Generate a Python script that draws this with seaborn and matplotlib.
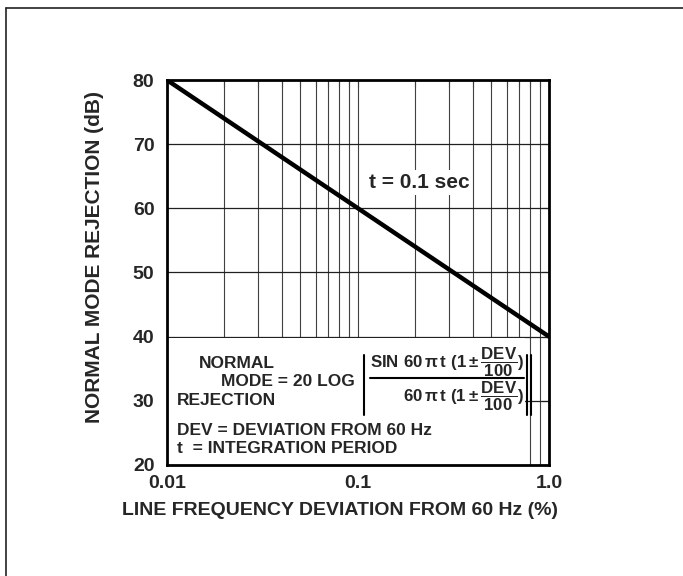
import matplotlib.pyplot as plt
import seaborn as sns
from matplotlib.lines import Line2D
from matplotlib.patches import Rectangle
from matplotlib.ticker import LogLocator, NullFormatter

# curve (t = 0.1 sec)
deviation_pct = [0.01, 0.1, 1.0]
rejection_db = [80, 60, 40]

x_ticks = [0.01, 0.1, 1.0]
x_tick_labels = ["0.01", "0.1", "1.0"]
y_ticks = [20, 30, 40, 50, 60, 70, 80]

sns.set_style("white")
plt.rcParams["font.family"] = ["Liberation Sans", "DejaVu Sans"]
plt.rcParams["font.weight"] = "bold"
plt.rcParams["mathtext.fontset"] = "custom"
plt.rcParams["mathtext.rm"] = "Liberation Sans:bold"
plt.rcParams["mathtext.it"] = "Liberation Sans:bold"
plt.rcParams["mathtext.bf"] = "Liberation Sans:bold"

fig = plt.figure(figsize=(6.83, 5.76), dpi=100)
ax = fig.add_axes([0.2445, 0.193, 0.5593, 0.668])
ax.set_xscale("log")
ax.set_xlim(0.01, 1.0)
ax.set_ylim(20, 80)

# grid drawn by hand so the formula box can hide it
grid_x = [k * 10.0 ** e for e in (-2, -1) for k in range(1, 10)] + [1.0]
for gx in grid_x[1:-1]:
    ax.axvline(gx, color="#404040", lw=0.8, zorder=1)
for gy in y_ticks[1:-1]:
    ax.axhline(gy, color="#202020", lw=0.9, zorder=1)

ax.add_patch(Rectangle((0.01, 20), 0.75 - 0.01, 19.85, facecolor="white",
                       edgecolor="none", zorder=1.5))

sns.lineplot(x=deviation_pct, y=rejection_db, ax=ax, color="black", lw=3.2,
             zorder=3)

ax.set_xticks(x_ticks, x_tick_labels)
ax.xaxis.set_minor_locator(LogLocator(subs=range(2, 10)))
ax.xaxis.set_minor_formatter(NullFormatter())
ax.set_yticks(y_ticks)
ax.tick_params(which="both", direction="in", length=5, width=0.8,
               top=True, right=True, labelsize=14)
ax.tick_params(axis="x", pad=7)
ax.tick_params(axis="y", pad=9)
for sp in ax.spines.values():
    sp.set_linewidth(2)
    sp.set_color("black")

ax.set_xlabel("LINE FREQUENCY DEVIATION FROM 60 Hz (%)", fontsize=14,
              fontweight="bold")
ax.xaxis.set_label_coords(0.453, -0.097)
ax.set_ylabel("NORMAL MODE REJECTION (dB)", fontsize=15, fontweight="bold")
ax.yaxis.set_label_coords(-0.165, 0.54)

ax.text(0.529, 0.719, "t = 0.1 sec", transform=ax.transAxes, fontsize=15,
        fontweight="bold", va="baseline", zorder=4,
        bbox=dict(facecolor="white", edgecolor="none", pad=2))

# formula box
tx = dict(transform=ax.transAxes, fontsize=12.5, fontweight="bold",
          va="baseline", zorder=4)
ax.text(0.084, 0.252, "NORMAL", **tx)
ax.text(0.492, 0.205, "MODE = 20 LOG", ha="right", **tx)
ax.text(0.026, 0.156, "REJECTION", **tx)
ax.text(0.026, 0.078, "DEV = DEVIATION FROM 60 Hz", **tx)
ax.text(0.026, 0.031, "t  = INTEGRATION PERIOD", **tx)

ax.text(0.733, 0.266, r"$SIN\ 60\,\pi\,t\ (1 \pm \dfrac{DEV}{100})$",
        transform=ax.transAxes, fontsize=12.2, ha="center", va="center",
        zorder=4)
ax.text(0.935, 0.177, r"$60\,\pi\,t\ (1 \pm \dfrac{DEV}{100})$",
        transform=ax.transAxes, fontsize=12.2, ha="right", va="center",
        zorder=4)
bar_style = dict(transform=ax.transAxes, color="black", lw=1.5, zorder=4)
ax.add_line(Line2D([0.531, 0.935], [0.226, 0.226], **bar_style))
for bx in (0.516, 0.942, 0.954):
    ax.add_line(Line2D([bx, bx], [0.13, 0.286], **bar_style))

# page frame (top and left edges)
fig.add_artist(Line2D([6 / 683, 1.0], [1 - 8 / 576, 1 - 8 / 576],
                      color="#222222", lw=1.2))
fig.add_artist(Line2D([6 / 683, 6 / 683], [0.0, 1 - 8 / 576],
                      color="#222222", lw=1.2))

fig.savefig("out.png", dpi=100)
